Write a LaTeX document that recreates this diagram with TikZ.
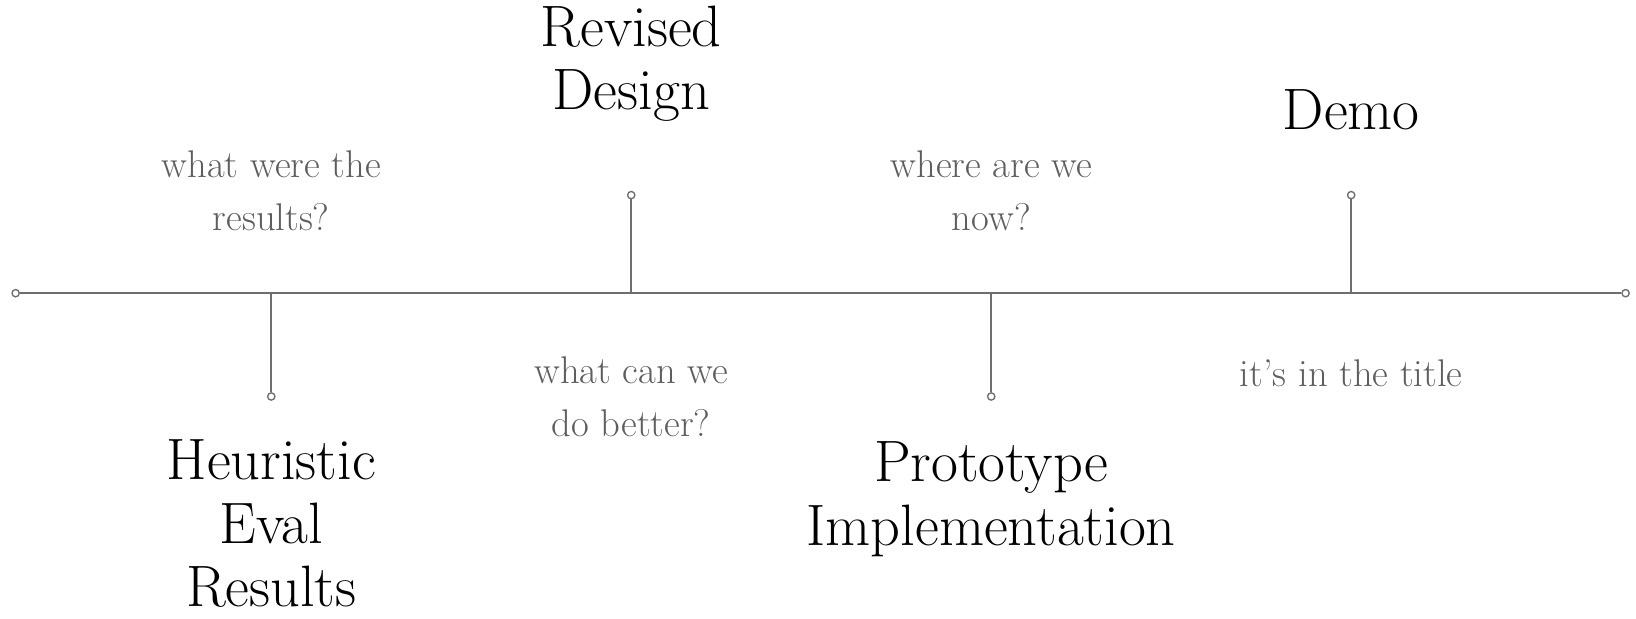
\documentclass[tikz,border=0pt]{standalone}
\usepackage{fontspec}
\usepackage{xcolor}
\usetikzlibrary{positioning}
\definecolor{linegray}{HTML}{6E6E6E}
\definecolor{askgray}{HTML}{5E5E5E}
\tikzstyle{rail} = [draw=linegray,line width=1.8pt]

\begin{document}
\begin{tikzpicture}[
  x=1pt, y=1pt,
  milestone/.style={align=center,inner sep=0pt,text=black,font=\fontsize{56}{61}\selectfont},
  ask/.style={align=center,inner sep=0pt,text=askgray,font=\fontsize{37}{51}\selectfont},
  pin/.style={circle,draw=linegray,line width=1.3pt,fill=white,inner sep=0pt,minimum size=7pt}
]
\useasboundingbox (0,0) rectangle (1568,593);
% 时间轴
\node[pin] (left) at (15,312) {};
\node[pin] (right) at (1558,312) {};
\draw[rail] (left) -- (right);
\foreach \n/\x in {a/260,b/605,c/950,d/1295}
  \coordinate (on\n) at (\x,312);
% 刻度
\node[pin] (pa) at (260,213) {};
\node[pin] (pb) at (605,406) {};
\node[pin] (pc) at (950,213) {};
\node[pin] (pd) at (1295,406) {};
\foreach \n in {a,b,c,d}
  \draw[rail] (on\n) -- (p\n);
% 标题
\node[milestone] (heur) at (260,91) {Heuristic\\Eval\\Results};
\node[milestone] (rev) at (605,532) {Revised\\Design};
\node[milestone] (proto) at (950,114.5) {Prototype\\Implementation};
\node[milestone] (demo) at (1295,488) {Demo};
% 问题
\node[ask] (qa) at (260,410.5) {what were the\\results?};
\node[ask] (qb) at (605,213) {what can we\\do better?};
\node[ask] (qc) at (950,410.5) {where are we\\now?};
\node[ask] (qd) at (1295,235) {it’s in the title};
\end{tikzpicture}
\end{document}
